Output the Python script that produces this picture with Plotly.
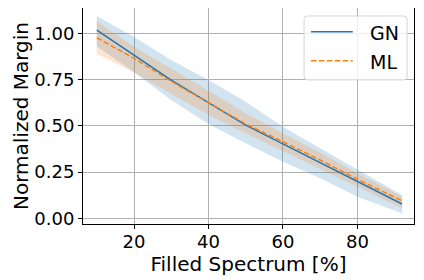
import plotly.graph_objects as go

x = [10, 20, 30, 40, 50, 60, 70, 80, 92]
gn_mean = [1.018, 0.883, 0.747, 0.625, 0.504, 0.402, 0.300, 0.198, 0.077]
gn_upper = [1.094, 0.980, 0.856, 0.747, 0.630, 0.495, 0.378, 0.265, 0.126]
gn_lower = [0.930, 0.790, 0.640, 0.510, 0.405, 0.306, 0.216, 0.117, 0.027]
ml_mean = [0.976, 0.865, 0.740, 0.625, 0.510, 0.414, 0.315, 0.211, 0.094]
ml_upper = [1.065, 0.928, 0.810, 0.690, 0.568, 0.460, 0.355, 0.243, 0.117]
ml_lower = [0.890, 0.790, 0.672, 0.558, 0.460, 0.365, 0.270, 0.171, 0.054]
xticks = [20, 40, 60, 80]
yticks = [0.0, 0.25, 0.5, 0.75, 1.0]
ytick_text = ["0.00", "0.25", "0.50", "0.75", "1.00"]
series_names = ["GN", "ML"]

BLUE = "#1f77b4"
ORANGE = "#ff7f0e"
FONT = "DejaVu Sans"
TICK_FS = 18
LABEL_FS = 20
LEG_FS = 19
ML_DASH = "5.5px,2.4px"

fig = go.Figure()
fig.add_trace(go.Scatter(x=x, y=gn_lower, mode="lines", line=dict(width=0),
                         showlegend=False, hoverinfo="skip"))
fig.add_trace(go.Scatter(x=x, y=gn_upper, mode="lines", line=dict(width=0),
                         fill="tonexty", fillcolor="rgba(31,119,180,0.2)",
                         showlegend=False, hoverinfo="skip"))
fig.add_trace(go.Scatter(x=x, y=ml_lower, mode="lines", line=dict(width=0),
                         showlegend=False, hoverinfo="skip"))
fig.add_trace(go.Scatter(x=x, y=ml_upper, mode="lines", line=dict(width=0),
                         fill="tonexty", fillcolor="rgba(255,127,14,0.2)",
                         showlegend=False, hoverinfo="skip"))
fig.add_trace(go.Scatter(x=x, y=gn_mean, mode="lines", name=series_names[0], showlegend=False,
                         line=dict(color=BLUE, width=1.5)))
fig.add_trace(go.Scatter(x=x, y=ml_mean, mode="lines", name=series_names[1], showlegend=False,
                         line=dict(color=ORANGE, width=1.5, dash=ML_DASH)))

axis_common = dict(showline=True, linecolor="black", linewidth=1, mirror=True,
                   ticks="outside", ticklen=4, tickcolor="black",
                   showgrid=True, gridcolor="#b0b0b0", gridwidth=0.8,
                   zeroline=False, automargin=False,
                   tickfont=dict(family=FONT, size=TICK_FS, color="black"))

# legend frame (rounded, semi-transparent like matplotlib)
x0, x1, y0, y1 = 0.668, 0.979, 0.667, 0.963
rx, ry = 0.010, 0.016
path = (f"M {x0+rx},{y0} L {x1-rx},{y0} Q {x1},{y0} {x1},{y0+ry} "
        f"L {x1},{y1-ry} Q {x1},{y1} {x1-rx},{y1} L {x0+rx},{y1} "
        f"Q {x0},{y1} {x0},{y1-ry} L {x0},{y0+ry} Q {x0},{y0} {x0+rx},{y0} Z")
shapes = [dict(type="path", path=path, xref="paper", yref="paper", layer="above",
               fillcolor="rgba(255,255,255,0.8)", line=dict(color="#d5d5d5", width=1))]
annotations = []
legend_rows = [(series_names[0], BLUE, "solid", 0.890, 0.884),
               (series_names[1], ORANGE, ML_DASH, 0.756, 0.750)]
for name, color, dash, ly, ty in legend_rows:
    shapes.append(dict(type="line", xref="paper", yref="paper", layer="above",
                       x0=0.689, x1=0.815, y0=ly, y1=ly,
                       line=dict(color=color, width=1.5, dash=dash)))
    annotations.append(dict(text=name, xref="paper", yref="paper", x=0.862, y=ty,
                            xanchor="left", yanchor="middle", showarrow=False,
                            font=dict(family=FONT, size=LEG_FS, color="black")))

fig.update_layout(
    width=424, height=280,
    margin=dict(l=75, r=18, t=0, b=64),
    paper_bgcolor="white", plot_bgcolor="white",
    font=dict(family=FONT, size=TICK_FS, color="black"),
    showlegend=False,
    xaxis=dict(range=[6.3, 95.2], tickvals=xticks, ticklabelstandoff=-3,
               title=dict(text="Filled Spectrum [%]", font=dict(family=FONT, size=LABEL_FS), standoff=0),
               **axis_common),
    yaxis=dict(range=[-0.031, 1.137], tickvals=yticks, ticktext=ytick_text,
               title=dict(text="Normalized Margin", font=dict(family=FONT, size=LABEL_FS), standoff=0),
               **axis_common),
    shapes=shapes,
    annotations=annotations,
)

fig.write_html("out.html")
